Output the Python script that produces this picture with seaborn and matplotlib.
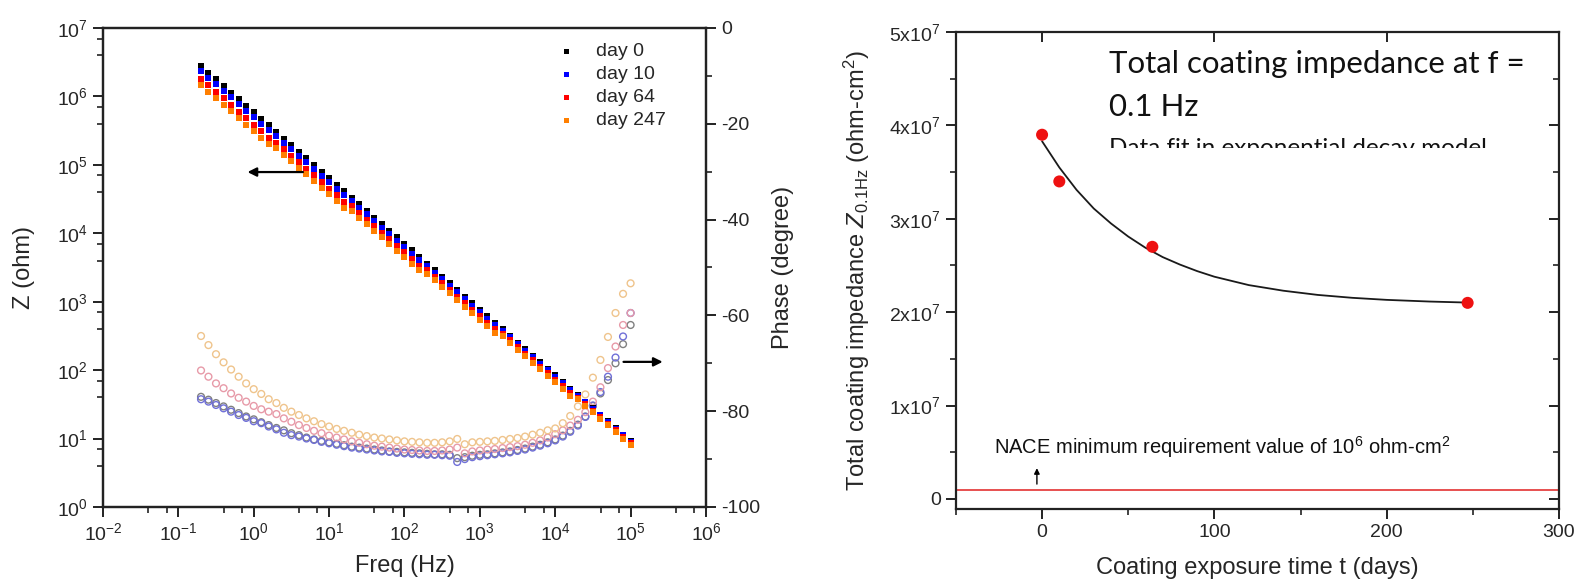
import matplotlib
matplotlib.use("Agg")
import matplotlib.pyplot as plt
import matplotlib.ticker as mticker
from matplotlib.transforms import Bbox, TransformedBbox
import seaborn as sns

# EIS data, 10 points per decade
freq = [0.2, 0.251, 0.316, 0.398, 0.501, 0.631, 0.794,
        1, 1.26, 1.58, 2.0, 2.51, 3.16, 3.98, 5.01, 6.31, 7.94,
        10, 12.6, 15.8, 20.0, 25.1, 31.6, 39.8, 50.1, 63.1, 79.4,
        100, 126, 158, 200, 251, 316, 398, 501, 631, 794,
        1000, 1260, 1580, 2000, 2510, 3160, 3980, 5010, 6310, 7940,
        10000, 12600, 15800, 20000, 25100, 31600, 39800, 50100, 63100, 79400,
        100000]

z_day0 = [2.75e6, 2.21e6, 1.77e6, 1.42e6, 1.14e6, 9.12e5, 7.30e5, 5.85e5, 4.69e5, 3.76e5,
          3.01e5, 2.42e5, 1.94e5, 1.55e5, 1.25e5, 9.98e4, 7.99e4, 6.40e4, 5.13e4, 4.11e4,
          3.29e4, 2.65e4, 2.12e4, 1.70e4, 1.36e4, 1.09e4, 8.74e3, 7.00e3, 5.61e3, 4.50e3,
          3.60e3, 2.89e3, 2.32e3, 1.86e3, 1.49e3, 1.19e3, 956, 766, 614, 492,
          394, 316, 253, 203, 163, 131, 105, 83.8, 67.2, 53.8,
          43.1, 34.6, 27.7, 22.3, 17.9, 14.3, 11.4, 9.2]
z_day10 = [2.34e6, 1.88e6, 1.50e6, 1.21e6, 9.69e5, 7.75e5, 6.21e5, 4.97e5, 3.99e5, 3.20e5,
           2.62e5, 2.11e5, 1.69e5, 1.35e5, 1.09e5, 8.68e4, 6.95e4, 5.57e4, 4.46e4, 3.58e4,
           2.93e4, 2.36e4, 1.89e4, 1.51e4, 1.21e4, 9.70e3, 7.78e3, 6.23e3, 4.99e3, 4.01e3,
           3.31e3, 2.66e3, 2.13e3, 1.71e3, 1.37e3, 1.09e3, 880, 705, 565, 453,
           374, 300, 240, 193, 155, 124, 99.8, 79.6, 63.8, 51.1,
           42.2, 33.9, 27.1, 21.9, 17.5, 14.0, 11.2, 9.0]
z_day64 = [1.82e6, 1.46e6, 1.17e6, 9.37e5, 7.52e5, 6.02e5, 4.82e5, 3.86e5, 3.10e5, 2.48e5,
           2.11e5, 1.69e5, 1.36e5, 1.09e5, 8.75e4, 6.99e4, 5.59e4, 4.48e4, 3.59e4, 2.88e4,
           2.47e4, 1.99e4, 1.59e4, 1.28e4, 1.02e4, 8.18e3, 6.56e3, 5.25e3, 4.21e3, 3.38e3,
           2.88e3, 2.31e3, 1.86e3, 1.49e3, 1.19e3, 952, 765, 613, 491, 394,
           339, 272, 218, 175, 140, 113, 90.3, 72.1, 57.8, 46.3,
           39.7, 31.8, 25.5, 20.5, 16.5, 13.2, 10.5, 8.5]
z_day247 = [1.46e6, 1.17e6, 9.38e5, 7.53e5, 6.04e5, 4.83e5, 3.87e5, 3.10e5, 2.49e5, 1.99e5,
            1.75e5, 1.40e5, 1.13e5, 8.99e4, 7.25e4, 5.79e4, 4.63e4, 3.71e4, 2.98e4, 2.38e4,
            2.11e4, 1.70e4, 1.36e4, 1.09e4, 8.70e3, 6.98e3, 5.59e3, 4.48e3, 3.59e3, 2.88e3,
            2.56e3, 2.05e3, 1.65e3, 1.32e3, 1.06e3, 845, 679, 544, 436, 349,
            311, 250, 200, 160, 129, 103, 83.0, 66.2, 53.1, 42.5,
            37.5, 30.1, 24.1, 19.4, 15.6, 12.4, 9.9, 8.0]

phase_day0 = [-77.0, -77.6, -78.3, -79.0, -79.7, -80.4, -81.1, -81.7, -82.3, -82.9,
              -83.5, -84.0, -84.6, -85.0, -85.5, -85.9, -86.2, -86.5, -86.8, -87.1,
              -87.4, -87.6, -87.8, -88.0, -88.2, -88.4, -88.5, -88.6, -88.7, -88.8,
              -88.9, -89.0, -89.0, -89.1, -89.8, -89.6, -89.3, -89.1, -89.0, -88.8,
              -88.6, -88.4, -88.1, -87.8, -87.4, -87.0, -86.5, -85.9, -85.1, -84.1,
              -82.8, -81.1, -78.9, -76.3, -73.5, -70.0, -66.0, -62.0]
phase_day10 = [-77.5, -78.0, -78.7, -79.4, -80.1, -80.8, -81.4, -82.1, -82.5, -83.2,
               -83.8, -84.5, -85.0, -85.3, -85.7, -86.0, -86.4, -86.7, -87.0, -87.3,
               -87.6, -87.8, -88.0, -88.2, -88.4, -88.5, -88.7, -88.8, -88.9, -89.0,
               -89.1, -89.1, -89.2, -89.3, -90.6, -90.0, -89.6, -89.4, -89.2, -89.0,
               -88.8, -88.6, -88.3, -88.0, -87.6, -87.2, -86.7, -86.1, -85.3, -84.3,
               -83.0, -81.2, -78.8, -76.0, -72.8, -68.8, -64.4, -59.5]
phase_day64 = [-71.5, -72.8, -74.2, -75.2, -76.3, -77.2, -78.0, -78.9, -79.6, -80.1,
               -80.6, -81.5, -82.2, -82.9, -83.5, -84.1, -84.6, -85.1, -85.5, -85.9,
               -86.3, -86.6, -86.9, -87.2, -87.4, -87.6, -87.8, -88.0, -88.1, -88.2,
               -88.3, -88.3, -88.2, -88.0, -87.6, -88.8, -88.4, -88.2, -88.0, -87.9,
               -87.7, -87.5, -87.3, -87.0, -86.6, -86.1, -85.5, -84.8, -84.0, -83.0,
               -81.8, -80.2, -78.0, -75.0, -71.0, -66.5, -62.0, -59.5]
phase_day247 = [-64.3, -66.2, -68.1, -69.8, -71.3, -72.8, -74.2, -75.4, -76.4, -77.5,
                -78.3, -79.3, -80.1, -80.8, -81.5, -82.1, -82.7, -83.2, -83.7, -84.1,
                -84.5, -84.9, -85.2, -85.5, -85.7, -85.9, -86.1, -86.3, -86.4, -86.5,
                -86.6, -86.6, -86.5, -86.3, -85.8, -86.9, -86.5, -86.4, -86.3, -86.2,
                -86.0, -85.8, -85.6, -85.3, -84.9, -84.5, -84.0, -83.6, -82.5, -81.0,
                -79.0, -76.5, -73.0, -69.3, -64.5, -59.5, -55.5, -53.3]

day_labels = ["day 0", "day 10", "day 64", "day 247"]
z_series = [z_day0, z_day10, z_day64, z_day247]
phase_series = [phase_day0, phase_day10, phase_day64, phase_day247]
square_colors = ["#000000", "#0000ff", "#ff0000", "#ff7f00"]
circle_colors = ["#808080", "#7070d8", "#e79aa8", "#efc48c"]

# coating impedance at 0.1 Hz vs exposure time
exposure_days = [0, 10, 64, 247]
z_01hz = [3.9e7, 3.4e7, 2.7e7, 2.1e7]
fit_days = [0, 10, 20, 30, 40, 50, 60, 70, 80, 90, 100, 120, 140, 160, 180, 200, 225, 247]
fit_z = [3.83e7, 3.55e7, 3.31e7, 3.11e7, 2.95e7, 2.81e7, 2.69e7, 2.59e7, 2.51e7, 2.44e7,
         2.38e7, 2.29e7, 2.23e7, 2.185e7, 2.154e7, 2.132e7, 2.114e7, 2.103e7]
nace_min = 1e6

sns.set_style("ticks")
plt.rcParams["font.family"] = ["Liberation Sans", "DejaVu Sans"]
plt.rcParams["mathtext.fontset"] = "custom"
plt.rcParams["mathtext.rm"] = "Liberation Sans"
plt.rcParams["mathtext.it"] = "Liberation Sans:italic"
plt.rcParams["mathtext.default"] = "regular"
plt.rcParams["axes.unicode_minus"] = False

TICK_FS = 14
LABEL_FS = 17
EDGE = "#222222"

fig = plt.figure(figsize=(15.79, 5.87), dpi=100)
ax = fig.add_axes([0.0652, 0.1363, 0.3819, 0.816])
ax.set_xscale("log")
ax.set_yscale("log")
axp = ax.twinx()
ax.set_zorder(axp.get_zorder() + 1)
ax.patch.set_visible(False)

# phase (open circles, right axis)
for ph, col in zip(phase_series, circle_colors):
    sns.scatterplot(x=freq, y=ph, ax=axp, marker="o", s=24, facecolor="none",
                    edgecolor=col, linewidth=1.0)

# impedance modulus (filled squares, left axis)
for z, col, lab in zip(z_series, square_colors, day_labels):
    sns.scatterplot(x=freq, y=z, ax=ax, marker="s", s=16, color=col,
                    edgecolor=col, linewidth=0, label=lab)

ax.set_xlim(1e-2, 1e6)
ax.set_ylim(1, 1e7)
axp.set_ylim(-100, 0)
ax.xaxis.set_major_locator(mticker.LogLocator(base=10, numticks=20))
ax.xaxis.set_minor_locator(mticker.LogLocator(base=10, subs=(4, 7), numticks=20))
ax.yaxis.set_major_locator(mticker.LogLocator(base=10, numticks=20))
ax.yaxis.set_minor_locator(mticker.LogLocator(base=10, subs=(4, 7), numticks=20))
ax.xaxis.set_minor_formatter(mticker.NullFormatter())
ax.yaxis.set_minor_formatter(mticker.NullFormatter())
axp.yaxis.set_major_locator(mticker.MultipleLocator(20))
axp.yaxis.set_minor_locator(mticker.MultipleLocator(10))

for a in (ax, axp):
    for sp in a.spines.values():
        sp.set_linewidth(1.6)
        sp.set_color(EDGE)
    a.tick_params(which="major", direction="out", length=7, width=1.4,
                  labelsize=TICK_FS, color=EDGE, pad=4)
    a.tick_params(which="minor", direction="out", length=4, width=1.2, color=EDGE)
ax.tick_params(which="both", top=False, right=False)
axp.tick_params(which="both", left=False, right=True, labelright=True)

ax.set_xlabel("Freq (Hz)", fontsize=LABEL_FS)
ax.set_ylabel("Z (ohm)", fontsize=LABEL_FS)
axp.set_ylabel("Phase (degree)", fontsize=LABEL_FS)
ax.xaxis.set_label_coords(0.5, -0.1)
ax.yaxis.set_label_coords(-0.113, 0.5)
axp.yaxis.set_label_coords(1.11, 0.5)

ax.annotate("", xy=(0.76, 7.85e4), xytext=(4.9, 7.85e4),
            arrowprops=dict(arrowstyle="-|>", color="black", lw=1.6, mutation_scale=13))
axp.annotate("", xy=(2.9e5, -69.7), xytext=(7.4e4, -69.7),
             arrowprops=dict(arrowstyle="-|>", color="black", lw=1.6, mutation_scale=13))

ax.legend(loc="upper left", bbox_to_anchor=(0.74, 0.99), frameon=False, fontsize=14,
          handlelength=0.7, handletextpad=1.2, labelspacing=0.28, borderpad=0,
          markerscale=0.9)

# right panel: impedance at 0.1 Hz vs exposure time
axr = fig.add_axes([0.6054, 0.1329, 0.3819, 0.8126])
axr.axhline(nace_min, color="#e02020", lw=1.1, zorder=1)
sns.lineplot(x=fit_days, y=fit_z, ax=axr, color="#1a1a1a", lw=1.3, zorder=2)
sns.scatterplot(x=exposure_days, y=z_01hz, ax=axr, color="#ee1111", s=75,
                edgecolor="none", zorder=3)

axr.set_xlim(-50, 300)
axr.set_ylim(-1.07e6, 5e7)
axr.xaxis.set_major_locator(mticker.MultipleLocator(100))
axr.xaxis.set_minor_locator(mticker.MultipleLocator(50))
axr.yaxis.set_major_locator(mticker.MultipleLocator(1e7))
axr.yaxis.set_minor_locator(mticker.MultipleLocator(0.5e7))
axr.yaxis.set_major_formatter(mticker.FuncFormatter(
    lambda v, p: "0" if abs(v) < 1 else "%dx10$^{7}$" % round(v / 1e7)))
for sp in axr.spines.values():
    sp.set_linewidth(1.6)
    sp.set_color(EDGE)
axr.tick_params(which="major", direction="out", length=7, width=1.4,
                labelsize=TICK_FS, color=EDGE, pad=4)
axr.tick_params(which="minor", direction="out", length=4, width=1.2, color=EDGE)
axr.tick_params(which="both", top=False, right=False)

# inward ticks on the top and right frame lines
axr_top = axr.twiny()
axr_top.set_xlim(axr.get_xlim())
axr_top.xaxis.set_major_locator(mticker.MultipleLocator(100))
axr_top.xaxis.set_minor_locator(mticker.NullLocator())
axr_top.tick_params(axis="x", direction="in", length=7, width=1.4, color=EDGE,
                    labeltop=False, top=True, bottom=False)
axr_right = axr.twinx()
axr_right.set_ylim(axr.get_ylim())
axr_right.yaxis.set_major_locator(mticker.MultipleLocator(1e7))
axr_right.yaxis.set_minor_locator(mticker.MultipleLocator(0.5e7))
axr_right.tick_params(axis="y", which="major", direction="in", length=7, width=1.4,
                      color=EDGE, labelright=False, right=True, left=False)
axr_right.tick_params(axis="y", which="minor", direction="in", length=4, width=1.2,
                      color=EDGE, right=True, left=False)
for a in (axr_top, axr_right):
    for sp in a.spines.values():
        sp.set_visible(False)

axr.set_xlabel("Coating exposure time t (days)", fontsize=LABEL_FS)
axr.set_ylabel(r"Total coating impedance $\mathit{Z}_{0.1Hz}$ (ohm-cm$^2$)", fontsize=LABEL_FS)
axr.xaxis.set_label_coords(0.5, -0.1)
axr.yaxis.set_label_coords(-0.14, 0.5)

axr.text(0.254, 0.914, "Total coating impedance at f =", transform=axr.transAxes,
         fontsize=22.5, family=["Lato", "DejaVu Sans"], va="baseline", color="#111111")
axr.text(0.254, 0.824, "0.1 Hz", transform=axr.transAxes,
         fontsize=22.5, family=["Lato", "DejaVu Sans"], va="baseline", color="#111111")
fit_note = axr.text(0.254, 0.743, "Data fit in exponential decay model",
                    transform=axr.transAxes, fontsize=17.5,
                    family=["Lato", "DejaVu Sans"], va="baseline", color="#111111")
fit_note.set_clip_box(TransformedBbox(Bbox.from_extents(0, 0.757, 1, 1), axr.transAxes))
fit_note.set_clip_on(True)

axr.text(0.063, 0.115, "NACE minimum requirement value of 10$^6$ ohm-cm$^2$",
         transform=axr.transAxes, fontsize=14.5, va="baseline", color="#111111")
axr.annotate("", xy=(-3, 0.36e7), xytext=(-3, 0.13e7),
             arrowprops=dict(arrowstyle="-|>", color="black", lw=1.0, mutation_scale=8))

fig.savefig("out.png", dpi=100)
